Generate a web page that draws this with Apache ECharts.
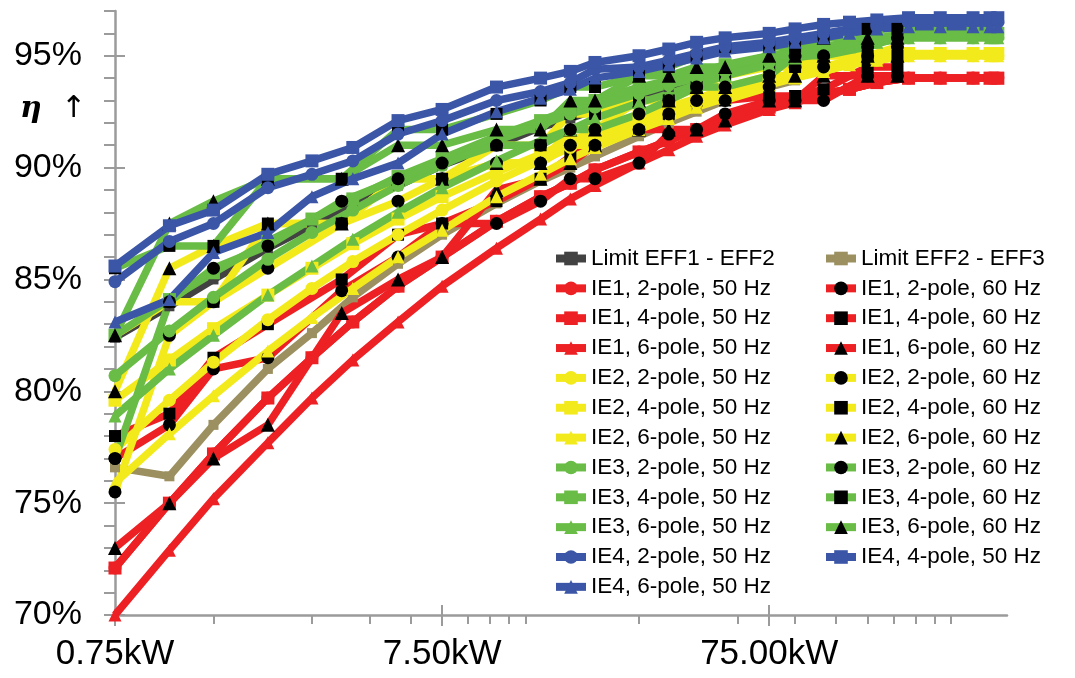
<!DOCTYPE html>
<html>
<head>
<meta charset="utf-8">
<title>Motor efficiency classes</title>
<script src="https://cdn.jsdelivr.net/npm/echarts@6.0.0/dist/echarts.min.js"></script>
<style>
  html, body { margin: 0; padding: 0; background: #fff; }
  #chart { width: 1075px; height: 678px; }
</style>
</head>
<body>
<div id="chart"></div>
<script>
// rated outputs (kW)
const kw50 = [0.75, 1.1, 1.5, 2.2, 3, 4, 5.5, 7.5, 11, 15, 18.5, 22, 30, 37, 45, 55, 75, 90, 110, 132, 160, 200, 250, 315, 355, 375]
const kw60 = [0.75, 1.1, 1.5, 2.2, 3.7, 5.5, 7.5, 11, 15, 18.5, 22, 30, 37, 45, 55, 75, 90, 110, 150, 185]
const kwLimit = [0.75, 1.1, 1.5, 2.2, 3, 4, 5.5, 7.5, 11, 15, 18.5, 22, 30, 37, 45, 55, 75, 90]

// efficiency limits (%)
const eff1Limit = [82.4, 83.8, 85.0, 86.4, 87.4, 88.3, 89.2, 90.1, 91.0, 91.8, 92.2, 92.6, 93.2, 93.6, 93.9, 94.2, 94.7, 95.0]
const eff2Limit = [76.6, 76.2, 78.5, 81.0, 82.6, 84.2, 85.7, 87.0, 88.4, 89.4, 90.0, 90.5, 91.4, 92.0, 92.5, 93.0, 93.6, 93.9]

// 50 Hz
const ie1p2f50 = [72.1, 75.0, 77.2, 79.7, 81.5, 83.1, 84.7, 86.0, 87.6, 88.7, 89.3, 89.9, 90.7, 91.2, 91.7, 92.1, 92.7, 93.0, 93.3, 93.5, 93.8, 94.0, 94.0, 94.0, 94.0, 94.0]
const ie1p4f50 = [72.1, 75.0, 77.2, 79.7, 81.5, 83.1, 84.7, 86.0, 87.6, 88.7, 89.3, 89.9, 90.7, 91.2, 91.7, 92.1, 92.7, 93.0, 93.3, 93.5, 93.8, 94.0, 94.0, 94.0, 94.0, 94.0]
const ie1p6f50 = [70.0, 72.9, 75.2, 77.7, 79.7, 81.4, 83.1, 84.7, 86.4, 87.7, 88.6, 89.2, 90.2, 90.8, 91.4, 91.9, 92.6, 92.9, 93.3, 93.5, 93.8, 94.0, 94.0, 94.0, 94.0, 94.0]
const ie2p2f50 = [77.4, 79.6, 81.3, 83.2, 84.6, 85.8, 87.0, 88.1, 89.4, 90.3, 90.9, 91.3, 92.0, 92.5, 92.9, 93.2, 93.8, 94.1, 94.3, 94.6, 94.8, 95.0, 95.0, 95.0, 95.0, 95.0]
const ie2p4f50 = [79.6, 81.4, 82.8, 84.3, 85.5, 86.6, 87.7, 88.7, 89.8, 90.6, 91.2, 91.6, 92.3, 92.7, 93.1, 93.5, 94.0, 94.2, 94.5, 94.7, 94.9, 95.1, 95.1, 95.1, 95.1, 95.1]
const ie2p6f50 = [75.9, 78.1, 79.8, 81.8, 83.3, 84.6, 86.0, 87.2, 88.7, 89.7, 90.4, 90.9, 91.7, 92.2, 92.7, 93.1, 93.7, 94.0, 94.3, 94.6, 94.8, 95.0, 95.0, 95.0, 95.0, 95.0]
const ie3p2f50 = [80.7, 82.7, 84.2, 85.9, 87.1, 88.1, 89.2, 90.1, 91.2, 91.9, 92.4, 92.7, 93.3, 93.7, 94.0, 94.3, 94.7, 95.0, 95.2, 95.4, 95.6, 95.8, 95.8, 95.8, 95.8, 95.8]
const ie3p4f50 = [82.5, 84.1, 85.3, 86.7, 87.7, 88.6, 89.6, 90.4, 91.4, 92.1, 92.6, 93.0, 93.6, 93.9, 94.2, 94.6, 95.0, 95.2, 95.4, 95.6, 95.8, 96.0, 96.0, 96.0, 96.0, 96.0]
const ie3p6f50 = [78.9, 81.0, 82.5, 84.3, 85.6, 86.8, 88.0, 89.1, 90.3, 91.2, 91.7, 92.2, 92.9, 93.3, 93.7, 94.1, 94.6, 94.9, 95.1, 95.4, 95.6, 95.8, 95.8, 95.8, 95.8, 95.8]
const ie4p2f50 = [84.9, 86.7, 87.5, 89.1, 89.7, 90.3, 91.5, 92.1, 93.0, 93.4, 93.8, 94.4, 94.5, 94.8, 95.1, 95.4, 95.6, 95.8, 96.0, 96.2, 96.3, 96.5, 96.5, 96.5, 96.5, 96.5]
const ie4p4f50 = [85.6, 87.4, 88.1, 89.7, 90.3, 90.9, 92.1, 92.6, 93.6, 94.0, 94.3, 94.7, 95.0, 95.3, 95.6, 95.8, 96.0, 96.2, 96.4, 96.5, 96.6, 96.7, 96.7, 96.7, 96.7, 96.7]
const ie4p6f50 = [83.1, 84.1, 86.2, 87.1, 88.7, 89.5, 90.2, 91.5, 92.5, 93.1, 93.5, 94.0, 94.3, 94.6, 94.9, 95.2, 95.4, 95.6, 95.8, 96.0, 96.2, 96.3, 96.3, 96.3, 96.3, 96.3]

// 60 Hz
const ie1p2f60 = [77.0, 78.5, 81.0, 81.5, 84.5, 86.0, 87.5, 87.5, 88.5, 89.5, 89.5, 90.2, 91.5, 91.7, 92.4, 93.0, 93.0, 93.0, 94.1, 94.1]
const ie1p4f60 = [78.0, 79.0, 81.5, 83.0, 85.0, 87.0, 87.5, 88.5, 89.5, 90.5, 91.0, 91.7, 92.4, 93.0, 93.0, 93.2, 93.2, 93.5, 94.5, 94.5]
const ie1p6f60 = [73.0, 75.0, 77.0, 78.5, 83.5, 85.0, 86.0, 89.0, 89.5, 90.2, 91.0, 91.7, 91.7, 91.7, 92.1, 93.0, 93.0, 94.1, 94.1, 94.1]
const ie2p2f60 = [75.5, 82.5, 84.0, 85.5, 87.5, 88.5, 89.5, 90.2, 90.2, 91.0, 91.0, 91.7, 92.4, 93.0, 93.0, 93.6, 94.5, 94.5, 95.0, 95.4]
const ie2p4f60 = [82.5, 84.0, 84.0, 87.5, 87.5, 89.5, 89.5, 91.0, 91.0, 92.4, 92.4, 93.0, 93.0, 93.6, 94.1, 94.5, 94.5, 95.0, 95.0, 95.0]
const ie2p6f60 = [80.0, 85.5, 86.5, 87.5, 87.5, 89.5, 89.5, 90.2, 90.2, 91.7, 91.7, 93.0, 93.0, 93.6, 93.6, 94.1, 94.1, 95.0, 95.0, 95.0]
const ie3p2f60 = [77.0, 84.0, 85.5, 86.5, 88.5, 89.5, 90.2, 91.0, 91.0, 91.7, 91.7, 92.4, 93.0, 93.6, 93.6, 94.1, 95.0, 95.0, 95.4, 95.8]
const ie3p4f60 = [85.5, 86.5, 86.5, 89.5, 89.5, 91.7, 91.7, 92.4, 93.0, 93.6, 93.6, 94.1, 94.5, 95.0, 95.4, 95.4, 95.4, 95.8, 96.2, 96.2]
const ie3p6f60 = [82.5, 87.5, 88.5, 89.5, 89.5, 91.0, 91.0, 91.7, 91.7, 93.0, 93.0, 94.1, 94.1, 94.5, 94.5, 95.0, 95.0, 95.8, 95.8, 95.8]

// axis ticks
const xMinKW = 0.75
const xMaxKW = 400
const xMinorTicksKW = [1.5, 3, 4.5, 6, 9, 10.5, 12, 13.5, 30, 60, 90, 120, 150, 180, 210, 240, 270]
const xMajorInnerKW = [7.5, 75]
const yMajorTicks = [70, 75, 80, 85, 90, 95]

const legendLeft = ['Limit EFF1 - EFF2', 'IE1, 2-pole, 50 Hz', 'IE1, 4-pole, 50 Hz', 'IE1, 6-pole, 50 Hz',
  'IE2, 2-pole, 50 Hz', 'IE2, 4-pole, 50 Hz', 'IE2, 6-pole, 50 Hz', 'IE3, 2-pole, 50 Hz', 'IE3, 4-pole, 50 Hz',
  'IE3, 6-pole, 50 Hz', 'IE4, 2-pole, 50 Hz', 'IE4, 6-pole, 50 Hz']
const legendRight = ['Limit EFF2 - EFF3', 'IE1, 2-pole, 60 Hz', 'IE1, 4-pole, 60 Hz', 'IE1, 6-pole, 60 Hz',
  'IE2, 2-pole, 60 Hz', 'IE2, 4-pole, 60 Hz', 'IE2, 6-pole, 60 Hz', 'IE3, 2-pole, 60 Hz', 'IE3, 4-pole, 60 Hz',
  'IE3, 6-pole, 60 Hz', 'IE4, 4-pole, 50 Hz']

const RED = '#ed2024'
const YEL = '#f3ea1c'
const GRN = '#69bc45'
const BLU = '#3b56a6'
const DGR = '#424242'
const KHK = '#9c9060'
const BLK = '#000000'
const FONT = 'Liberation Sans, Arial, sans-serif'

// log axis drawn on a value axis: x = log10(kW / 0.75)
const lx = kw => Math.log10(kw / xMinKW)

function line(name, kw, vals, color, symbol, markColor, size) {
  return {
    name: name,
    type: 'line',
    data: kw.map((k, i) => [lx(k), vals[i]]),
    symbol: symbol,
    symbolSize: size,
    lineStyle: { color: color, width: 7.5 },
    itemStyle: { color: markColor },
    emphasis: { disabled: true }
  }
}

const series = [
  line('Limit EFF1 - EFF2', kwLimit, eff1Limit, DGR, 'rect', DGR, 10),
  line('Limit EFF2 - EFF3', kwLimit, eff2Limit, KHK, 'rect', KHK, 10),
  line('IE1, 2-pole, 50 Hz', kw50, ie1p2f50, RED, 'circle', RED, 13),
  line('IE1, 4-pole, 50 Hz', kw50, ie1p4f50, RED, 'rect', RED, 13),
  line('IE1, 6-pole, 50 Hz', kw50, ie1p6f50, RED, 'triangle', RED, 13),
  line('IE1, 2-pole, 60 Hz', kw60, ie1p2f60, RED, 'circle', BLK, 13),
  line('IE1, 4-pole, 60 Hz', kw60, ie1p4f60, RED, 'rect', BLK, 12),
  line('IE1, 6-pole, 60 Hz', kw60, ie1p6f60, RED, 'triangle', BLK, 14),
  line('IE2, 2-pole, 50 Hz', kw50, ie2p2f50, YEL, 'circle', YEL, 13),
  line('IE2, 4-pole, 50 Hz', kw50, ie2p4f50, YEL, 'rect', YEL, 13),
  line('IE2, 6-pole, 50 Hz', kw50, ie2p6f50, YEL, 'triangle', YEL, 13),
  line('IE2, 2-pole, 60 Hz', kw60, ie2p2f60, YEL, 'circle', BLK, 13),
  line('IE2, 4-pole, 60 Hz', kw60, ie2p4f60, YEL, 'rect', BLK, 12),
  line('IE2, 6-pole, 60 Hz', kw60, ie2p6f60, YEL, 'triangle', BLK, 14),
  line('IE3, 2-pole, 50 Hz', kw50, ie3p2f50, GRN, 'circle', GRN, 13),
  line('IE3, 4-pole, 50 Hz', kw50, ie3p4f50, GRN, 'rect', GRN, 13),
  line('IE3, 6-pole, 50 Hz', kw50, ie3p6f50, GRN, 'triangle', GRN, 13),
  line('IE3, 2-pole, 60 Hz', kw60, ie3p2f60, GRN, 'circle', BLK, 13),
  line('IE3, 4-pole, 60 Hz', kw60, ie3p4f60, GRN, 'rect', BLK, 12),
  line('IE3, 6-pole, 60 Hz', kw60, ie3p6f60, GRN, 'triangle', BLK, 14),
  line('IE4, 2-pole, 50 Hz', kw50, ie4p2f50, BLU, 'circle', BLU, 13),
  line('IE4, 4-pole, 50 Hz', kw50, ie4p4f50, BLU, 'rect', BLU, 13),
  line('IE4, 6-pole, 50 Hz', kw50, ie4p6f50, BLU, 'triangle', BLU, 13)
]

const axisGrey = '#9b9b9b'
const xRange = { min: 0, max: lx(xMaxKW) }
const yRange = { min: 70, max: 97 }

function legendCol(names, left) {
  return {
    data: names,
    orient: 'vertical',
    left: left,
    top: 247,
    padding: 0,
    itemWidth: 30,
    itemHeight: 17,
    itemGap: 6.85,
    selectedMode: false,
    lineStyle: { width: 8 },
    textStyle: { fontFamily: FONT, fontSize: 22.5, lineHeight: 23, color: '#000' }
  }
}

function tickAxisX(values, inside, length) {
  return {
    type: 'value',
    position: 'bottom',
    min: xRange.min,
    max: xRange.max,
    splitLine: { show: false },
    axisLine: { show: false },
    axisLabel: { show: false },
    axisTick: { inside: inside, length: length, customValues: values, lineStyle: { color: axisGrey, width: 2 } }
  }
}

const option = {
  animation: false,
  backgroundColor: '#fff',
  grid: { left: 115, right: 68, top: 11, bottom: 63 },
  legend: [legendCol(legendLeft, 552), legendCol(legendRight, 822)],
  xAxis: [
    {
      type: 'value',
      position: 'bottom',
      min: xRange.min,
      max: xRange.max,
      interval: 1,
      splitLine: { show: false },
      axisLine: { lineStyle: { color: axisGrey, width: 2.5 } },
      axisTick: { length: 11, lineStyle: { color: axisGrey, width: 2 } },
      axisLabel: {
        showMaxLabel: false,
        margin: 22,
        fontFamily: FONT,
        fontSize: 35,
        color: '#000',
        formatter: v => (xMinKW * Math.pow(10, v)).toFixed(2) + 'kW'
      }
    },
    tickAxisX(xMinorTicksKW.map(lx), false, 9),
    tickAxisX(xMajorInnerKW.map(lx), true, 10)
  ],
  yAxis: [
    {
      type: 'value',
      min: yRange.min,
      max: yRange.max,
      interval: 5,
      splitLine: { show: false },
      axisLine: { show: true, lineStyle: { color: axisGrey, width: 2.5 } },
      axisTick: { show: false },
      axisLabel: {
        showMaxLabel: false,
        margin: 33,
        fontFamily: FONT,
        fontSize: 34,
        color: '#000',
        formatter: v => v + '%'
      }
    },
    {
      type: 'value',
      min: yRange.min,
      max: yRange.max,
      interval: 1,
      position: 'left',
      splitLine: { show: false },
      axisLine: { show: false },
      axisLabel: { show: false },
      axisTick: { show: true, length: 11, lineStyle: { color: axisGrey, width: 2 } }
    },
    {
      type: 'value',
      min: yRange.min,
      max: yRange.max,
      position: 'left',
      splitLine: { show: false },
      axisLine: { show: false },
      axisLabel: { show: false },
      axisTick: { show: true, inside: true, length: 10, customValues: yMajorTicks, lineStyle: { color: axisGrey, width: 2 } }
    }
  ],
  graphic: [
    {
      type: 'text',
      left: 20,
      top: 94,
      style: {
        text: '{eta|η}  ↑',
        fontFamily: 'DejaVu Sans',
        fontSize: 30,
        fill: '#000',
        rich: {
          eta: { fontFamily: 'DejaVu Serif', fontStyle: 'italic', fontWeight: 'bold', fontSize: 30 }
        }
      }
    }
  ],
  series: series
}

const chart = echarts.init(document.getElementById('chart'))
chart.setOption(option)
</script>
</body>
</html>
